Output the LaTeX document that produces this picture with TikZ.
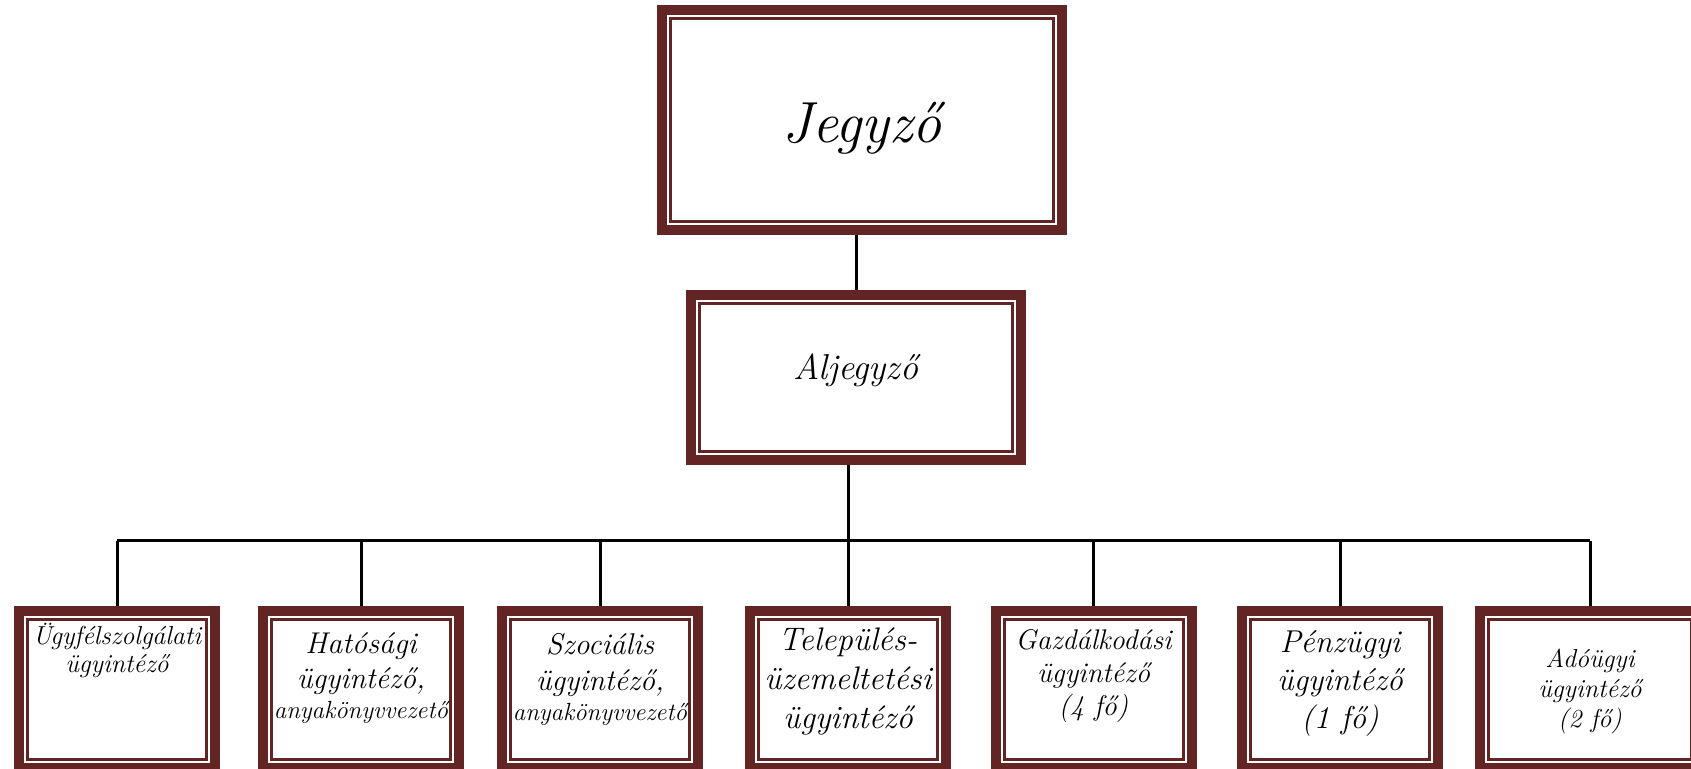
\documentclass[tikz,border=0pt]{standalone}
\usepackage{fontspec}
\usepackage{tikz}

\definecolor{keret}{RGB}{99,36,36}

\tikzset{
  szint/.style={draw=keret, line width=5pt, fill=white, inner sep=0pt,
    path picture={\draw[keret, line width=1.5pt]
      ([shift={(4.25pt,-4.25pt)}]path picture bounding box.north west) rectangle
      ([shift={(-4.25pt,4.25pt)}]path picture bounding box.south east);}},
  also/.style={szint, minimum width=98pt, minimum height=78.5pt},
  felirat/.style={align=center, inner sep=0pt, anchor=base},
  vonal/.style={line width=1.5pt}
}

\begin{document}
\begin{tikzpicture}[x=0.5pt, y=-0.5pt]
    \useasboundingbox (0,0) rectangle (1691,769);

    % Jegyzo
    \node[szint, minimum width=200pt, minimum height=110pt, text height=23pt, text depth=0pt,
      font=\fontsize{29}{34}\selectfont\itshape] (jegyzo) at (862,120) {Jegyző};

    % Aljegyzo
    \node[szint, minimum width=165pt, minimum height=82.5pt, text height=6pt, text depth=4pt,
      font=\fontsize{18}{22}\selectfont\itshape] (aljegyzo) at (856,377.5) {Aljegyző};

    % Ugyintezok
    \node[also] (ugyf) at (117,689.5) {};
    \node[also] (hat) at (361,689.5) {};
    \node[also] (szoc) at (600,689.5) {};
    \node[also] (telep) at (848,689.5) {};
    \node[also] (gazd) at (1093.5,689.5) {};
    \node[also] (penz) at (1340,689.5) {};
    \node[also, minimum width=110pt] (ado) at (1590,689.5) {};

    % Feliratok (base = last line)
    \node[felirat, font=\fontsize{13}{14}\selectfont\itshape] (ugyf-t)
      at ([yshift=-33pt]ugyf.north) {Ügyfélszolgálati\\ügyintéző};
    \node[felirat, font=\fontsize{15}{17.5}\selectfont\itshape] (hat-t)
      at ([yshift=-56pt]hat.north) {Hatósági\\ügyintéző,\\[-2.5pt]{\fontsize{12.4}{14}\selectfont anyakönyvvezető}};
    \node[felirat, font=\fontsize{15}{18}\selectfont\itshape] (szoc-t)
      at ([yshift=-57pt]szoc.north) {Szociális\\ügyintéző,\\[-3pt]{\fontsize{12.4}{14}\selectfont anyakönyvvezető}};
    \node[felirat, font=\fontsize{16.3}{19.5}\selectfont\itshape] (telep-t)
      at ([yshift=-61pt]telep.north) {Település-\\üzemeltetési\\ügyintéző};
    \node[felirat, font=\fontsize{14.2}{16.5}\selectfont\itshape] (gazd-t)
      at ([yshift=-54.5pt]gazd.north) {Gazdálkodási\\ügyintéző\\(4 fő)};
    \node[felirat, font=\fontsize{15.8}{19}\selectfont\itshape] (penz-t)
      at ([yshift=-61pt]penz.north) {Pénzügyi\\ügyintéző\\(1 fő)};
    \node[felirat, font=\fontsize{13}{14.8}\selectfont\itshape] (ado-t)
      at ([yshift=-60.5pt]ado.north) {Adóügyi\\ügyintéző\\(2 fő)};

    % Connections
    \draw[vonal] (aljegyzo.north) -- (aljegyzo.north |- jegyzo.south);
    \draw[vonal] (aljegyzo.south -| telep.north) -- (telep.north);
    \coordinate (sin) at (0,541);
    \draw[vonal] (ugyf.north |- sin) -- (ado.north |- sin);
    \foreach \b in {ugyf,hat,szoc,gazd,penz,ado}
      \draw[vonal] (\b.north |- sin) -- (\b.north);

\end{tikzpicture}
\end{document}
